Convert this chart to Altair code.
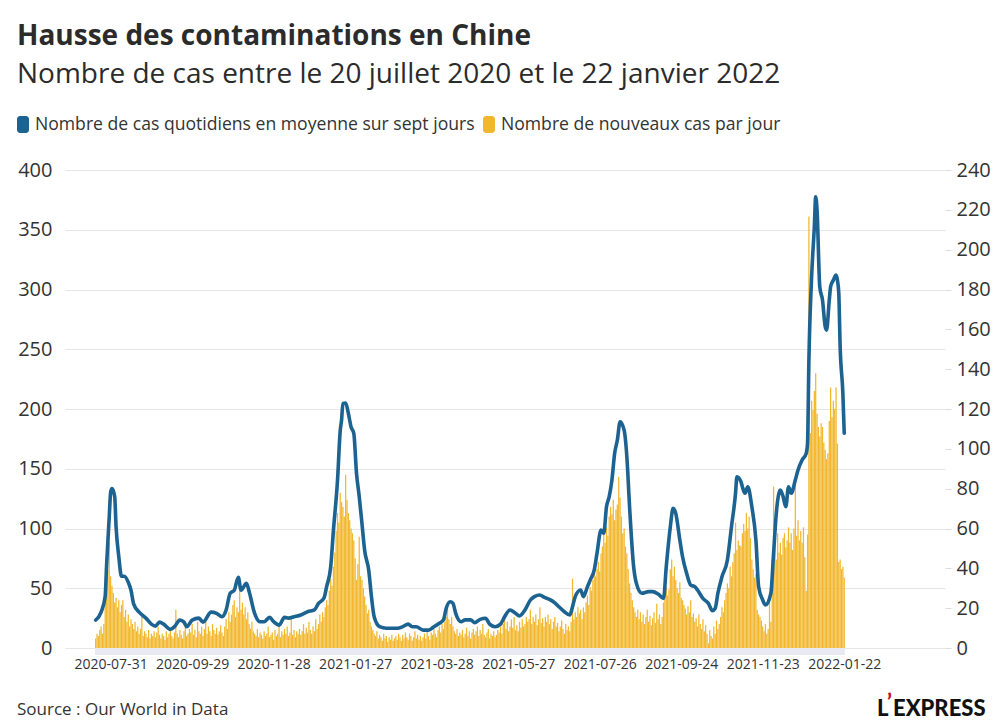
import altair as alt
import pandas as pd

# ---------------- data ----------------
# daily new cases (left axis), one value per day from 2020-07-20 (day 0) to 2022-01-22 (day 551)
daily_cases = [
    8, 12, 10, 15, 18, 12, 20, 40, 50, 65,
    88, 60, 52, 46, 38, 42, 34, 40, 30, 36,
    40, 26, 32, 22, 28, 18, 24, 20, 16, 22,
    14, 18, 12, 16, 26, 10, 14, 12, 9, 15,
    8, 12, 10, 14, 9, 13, 18, 11, 8, 12,
    10, 7, 14, 9, 12, 16, 10, 8, 13, 32,
    12, 9, 15, 11, 8, 14, 18, 10, 12, 16,
    13, 20, 11, 15, 9, 22, 14, 12, 18, 10,
    16, 22, 12, 18, 14, 10, 20, 15, 12, 17,
    11, 14, 19, 13, 10, 18, 24, 16, 30, 22,
    28, 36, 40, 26, 34, 30, 48, 32, 38, 28,
    34, 24, 30, 20, 16, 22, 14, 12, 10, 16,
    9, 13, 11, 8, 14, 10, 12, 18, 9, 11,
    13, 7, 15, 10, 12, 20, 9, 14, 11, 16,
    12, 18, 10, 13, 26, 11, 15, 9, 14, 12,
    16, 11, 14, 20, 12, 17, 13, 22, 15, 12,
    18, 14, 24, 16, 20, 28, 22, 30, 26, 34,
    40, 36, 48, 58, 52, 68, 80, 98, 113, 105,
    130, 122, 118, 110, 145, 124, 113, 107, 100, 96,
    90, 75, 57, 70, 93, 60, 57, 50, 43, 36,
    29, 32, 22, 18, 15, 12, 10, 14, 8, 11,
    9, 6, 12, 8, 10, 5, 9, 7, 11, 6,
    8, 10, 7, 12, 9, 6, 11, 8, 13, 9,
    7, 12, 10, 6, 9, 14, 8, 11, 7, 10,
    6, 9, 12, 8, 14, 10, 7, 13, 11, 16,
    12, 9, 15, 18, 13, 20, 16, 22, 26, 33,
    24, 20, 26, 18, 14, 12, 16, 10, 13, 11,
    15, 9, 12, 17, 10, 14, 8, 13, 16, 11,
    14, 18, 10, 15, 12, 20, 11, 9, 13, 16,
    8, 12, 10, 14, 9, 11, 15, 13, 18, 12,
    20, 26, 16, 22, 14, 18, 24, 17, 26, 15,
    19, 14, 22, 17, 24, 18, 20, 26, 22, 24,
    32, 20, 26, 22, 28, 19, 24, 34, 21, 25,
    18, 26, 22, 28, 20, 24, 16, 22, 26, 18,
    21, 14, 18, 23, 16, 12, 20, 15, 18, 14,
    22, 58, 24, 30, 26, 34, 29, 32, 24, 34,
    30, 38, 44, 36, 51, 48, 57, 68, 60, 66,
    72, 64, 79, 85, 96, 88, 101, 94, 110, 118,
    112, 124, 107, 116, 120, 143, 126, 110, 96, 100,
    85, 79, 66, 54, 46, 40, 34, 30, 26, 32,
    24, 30, 22, 28, 20, 26, 32, 22, 27, 19,
    25, 30, 21, 37, 24, 28, 20, 26, 38, 46,
    51, 44, 49, 66, 74, 60, 68, 57, 50, 46,
    55, 42, 40, 36, 33, 28, 35, 30, 40, 26,
    29, 22, 25, 18, 28, 20, 16, 24, 14, 19,
    12, 4, 15, 10, 8, 18, 12, 23, 16, 20,
    26, 34, 30, 40, 46, 54, 50, 68, 60, 72,
    79, 105, 82, 90, 86, 85, 96, 104, 98, 113,
    100, 110, 92, 74, 66, 59, 62, 32, 28, 26,
    23, 18, 14, 20, 12, 16, 40, 22, 74, 135,
    86, 74, 96, 80, 88, 78, 92, 96, 84, 90,
    101, 88, 96, 82, 100, 140, 94, 107, 90, 98,
    88, 101, 76, 48, 95, 361, 180, 207, 199, 215,
    230, 196, 185, 177, 188, 185, 172, 166, 158, 163,
    190, 218, 193, 207, 200, 218, 171, 72, 74, 66,
    68, 59,
]
days = list(range(len(daily_cases)))

# seven-day average (right axis), read at these days
avg_days = [
    0, 4, 7, 8, 10, 11, 12, 14, 15, 17, 19, 21, 24, 26, 28, 32, 37, 41, 44, 47,
    50, 55, 58, 62, 65, 67, 71, 76, 79, 85, 89, 93, 96, 99, 102, 105, 107, 111, 113, 117,
    121, 124, 128, 131, 135, 139, 142, 146, 151, 156, 161, 164, 168, 170, 173, 175, 178, 180, 181, 182,
    184, 186, 188, 190, 192, 194, 196, 198, 201, 203, 205, 209, 214, 219, 222, 226, 230, 233, 236, 241,
    245, 249, 253, 256, 258, 261, 263, 265, 269, 272, 276, 279, 283, 287, 290, 294, 298, 301, 305, 309,
    312, 316, 320, 323, 327, 330, 334, 338, 341, 345, 349, 351, 353, 357, 359, 362, 364, 367, 369, 372,
    374, 376, 378, 380, 382, 384, 386, 389, 391, 393, 396, 398, 402, 407, 410, 414, 418, 420, 423, 425,
    427, 430, 432, 435, 438, 441, 443, 447, 451, 454, 456, 458, 461, 465, 468, 471, 472, 475, 476, 478,
    480, 483, 486, 488, 491, 493, 497, 499, 501, 504, 506, 508, 510, 512, 515, 517, 520, 523, 524, 525,
    527, 529, 530, 531, 533, 535, 537, 538, 540, 541, 543, 545, 546, 547, 548, 550, 551,
]
avg_cases = [
    14, 18, 26, 41, 66, 78, 80, 76, 61, 46, 36, 36, 33, 29, 22, 18, 15, 12, 11, 13,
    12, 9.4, 10.7, 14, 13, 10.7, 14, 15, 13, 18, 17.4, 15.7, 19, 27.5, 29, 35.5, 29, 32.5, 28.3, 17.4,
    13.2, 13.2, 15.4, 13.2, 11.5, 15.4, 15, 15.7, 16.6, 18.2, 19.1, 22.4, 25, 30.8, 40.8, 59, 84, 109, 114.5, 122.8,
    123, 117.8, 111, 107.8, 87.7, 76, 62.6, 49, 39, 25.8, 15.7, 10.7, 9.9, 9.9, 9.9, 10.7, 12, 10.7, 10.7, 9,
    9, 10.7, 12.4, 14.1, 19.9, 23.2, 22.4, 17.4, 13.2, 14.1, 14.1, 12.7, 14.4, 14.9, 12, 10.7, 12, 15.7, 19.1, 17.4,
    16.1, 19.1, 24.1, 25.8, 26.6, 25.5, 24.4, 22.7, 20.7, 18.2, 16.6, 20.7, 25.8, 29.1, 25.8, 30.8, 34.1, 39.2, 47.5, 59.2,
    57.6, 70.9, 76, 84.3, 97.7, 104.4, 113.6, 109.4, 96, 70.9, 40.8, 32.5, 27.5, 28.3, 28.3, 27.1, 24.9, 40.8, 60.9, 70.1,
    67.6, 54.2, 45.8, 37.5, 31.6, 30.8, 29.1, 24.9, 22.4, 18.7, 19.9, 27.5, 35.8, 44.2, 60.9, 77.7, 86, 83.5, 81, 77.7,
    81, 70.9, 54.2, 30.8, 24.1, 21.6, 27.5, 47.5, 67.6, 79.3, 76, 70.9, 81, 77.7, 84.3, 89.4, 94.4, 97.7, 102.8, 144.6,
    186.4, 211.5, 226.6, 219.9, 181.4, 174.7, 161.3, 159.6, 174.7, 181.4, 184.7, 187.2, 184.7, 178.1, 151.3, 127.9, 107.8,
]

tick_days = [11, 71, 131, 191, 251, 311, 371, 431, 491, 551]
left_ticks = [0, 50, 100, 150, 200, 250, 300, 350, 400]
right_ticks = [0, 20, 40, 60, 80, 100, 120, 140, 160, 180, 200, 220, 240]

title_text = "Hausse des contaminations en Chine"
subtitle_text = "Nombre de cas entre le 20 juillet 2020 et le 22 janvier 2022"
legend_line = "Nombre de cas quotidiens en moyenne sur sept jours"
legend_bar = "Nombre de nouveaux cas par jour"
source_text = "Source : Our World in Data"
logo_l, logo_apos, logo_rest = "L", "’", "EXPRESS"

BLUE = "#1d6391"
YELLOW = "#f2b72c"
FONT = "Open Sans"
W, H = 880, 478

# ---------------- chart ----------------
df_bars = pd.DataFrame({"day": days, "cases": daily_cases})
df_line = pd.DataFrame({"day": avg_days, "avg": avg_cases})
one = pd.DataFrame({"k": [0]})

xscale = alt.Scale(domain=[-18.9, 621.5], nice=False, zero=False)
xaxis = alt.Axis(
    values=tick_days,
    labelExpr="timeFormat(datetime(2020, 6, 20 + datum.value), '%Y-%m-%d')",
    grid=False, domain=False, ticks=False, title=None,
    labelFontSize=14, labelColor="#333333", labelPadding=9, labelFont=FONT,
)

band = alt.Chart(one).mark_rect(color="#e9e9f2").encode(
    x=alt.X(datum=-0.5, type="quantitative", scale=xscale, axis=xaxis),
    x2=alt.X2(datum=551.5),
    y=alt.value(H),
    y2=alt.value(H + 7),
)

bars = alt.Chart(df_bars).mark_bar(color=YELLOW, size=1.25).encode(
    x=alt.X("day:Q", scale=xscale, axis=xaxis),
    y=alt.Y(
        "cases:Q",
        scale=alt.Scale(domain=[0, 400], nice=False),
        axis=alt.Axis(
            orient="left", values=left_ticks, grid=True, gridColor="#e6e6e6",
            domain=False, ticks=False, title=None, labelFontSize=20,
            labelColor="#333333", labelPadding=13, labelFont=FONT,
        ),
    ),
)

line = alt.Chart(df_line).mark_line(
    color=BLUE, strokeWidth=3.6, interpolate="monotone", strokeJoin="round", strokeCap="round"
).encode(
    x=alt.X("day:Q", scale=xscale, axis=xaxis),
    y=alt.Y(
        "avg:Q",
        scale=alt.Scale(domain=[0, 240], nice=False),
        axis=alt.Axis(
            orient="right", values=right_ticks, grid=False, domain=False,
            ticks=True, tickSize=6, tickColor="#dddddd", title=None,
            labelFontSize=20, labelColor="#333333", labelPadding=5, labelFont=FONT,
        ),
    ),
)

def text_layer(txt, x, y, size, weight="normal", color="#2b2b2b", align="left", font=FONT):
    return alt.Chart(one).mark_text(
        text=txt, fontSize=size, fontWeight=weight, font=font, color=color,
        align=align, baseline="alphabetic",
    ).encode(x=alt.value(x), y=alt.value(y))

def swatch(x, color):
    return alt.Chart(one).mark_rect(color=color, cornerRadius=3).encode(
        x=alt.value(x), x2=alt.value(x + 12), y=alt.value(-54), y2=alt.value(-37)
    )

chart = alt.layer(
    band,
    bars,
    line,
    text_layer(title_text, -48, -125, 28, "bold"),
    text_layer(subtitle_text, -48, -87, 28),
    swatch(-48, BLUE),
    text_layer(legend_line, -30, -40, 17.6, color="#333333"),
    swatch(418, YELLOW),
    text_layer(legend_bar, 436, -40, 17.6, color="#333333"),
    text_layer(source_text, -48, 545, 17, color="#333333"),
    text_layer(logo_l, 812, 546, 22, 900, color="#111111", font="Lato"),
    text_layer(logo_apos, 822, 540, 22, 900, color="#c8102e", font="Lato"),
    text_layer(logo_rest, 828, 546, 22, 900, color="#111111", font="Lato"),
).resolve_scale(y="independent").properties(
    width=W, height=H,
    autosize=alt.AutoSizeParams(type="none"),
    padding={"left": 57, "top": 162, "right": 47, "bottom": 74},
).configure_view(stroke=None)

chart.save("out.html", embed_options={"renderer": "svg", "actions": False})
